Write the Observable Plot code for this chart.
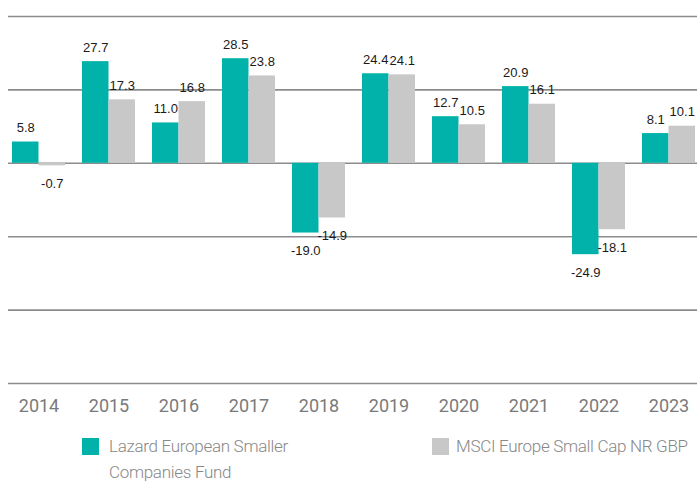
<!DOCTYPE html>
<html><head><meta charset="utf-8">
<script src="https://cdn.jsdelivr.net/npm/d3@7"></script>
<script src="https://cdn.jsdelivr.net/npm/@observablehq/plot@0.6"></script>
<style>
body{margin:0;background:#fff;}
#wrap{position:relative;width:697px;height:482px;overflow:hidden;}
.leg{position:absolute;font-family:Roboto,sans-serif;font-weight:300;font-size:17px;letter-spacing:-0.3px;color:#888;line-height:26px;white-space:nowrap;}
.sw{position:absolute;width:17px;height:17px;}
</style></head><body>
<div id="wrap"><div id="chart"></div></div>
<script>
const years = ["2014","2015","2016","2017","2018","2019","2020","2021","2022","2023"];
const fund = [5.8,27.7,11.0,28.5,-19.0,24.4,12.7,20.9,-24.9,8.1];
const bench = [-0.7,17.3,16.8,23.8,-14.9,24.1,10.5,16.1,-18.1,10.1];
const seriesNames = ["Lazard European Smaller\nCompanies Fund","MSCI Europe Small Cap NR GBP"];
const colors = ["#00B2A9","#C8C8C8"];
const yTicks = [-60,-40,-20,0,20,40];

const fundData = years.map((y,i)=>({year:y, v:fund[i]}));
const benchData = years.map((y,i)=>({year:y, v:bench[i]}));
const half = 26.5;
const lbl = (data, dx) => [
  Plot.text(data,{filter:d=>d.v>=0, x:"year", y:"v", text:d=>d.v.toFixed(1), dx, dy:-14, fill:"#1a1a1a", fontSize:13}),
  Plot.text(data,{filter:d=>d.v<0, x:"year", y:"v", text:d=>d.v.toFixed(1), dx, dy:18, fill:"#1a1a1a", fontSize:13})
];
const chart = Plot.plot({
  width:697, height:420, marginTop:16, marginBottom:37, marginLeft:8, marginRight:0,
  style:{fontFamily:"'Liberation Sans', Arial, sans-serif", fontSize:"13px", background:"#fff"},
  x:{domain:years, range:[10,697], paddingInner:0.2476, paddingOuter:0, axis:null},
  y:{domain:[-60,40], axis:null},
  marks:[
    Plot.ruleY(yTicks,{stroke:"#8c8c8c", strokeWidth:1.6}),
    Plot.barY(fundData,{x:"year", y:"v", fill:colors[0], insetRight:half}),
    Plot.barY(benchData,{x:"year", y:"v", fill:colors[1], insetLeft:half}),
    ...lbl(fundData,-half/2),
    ...lbl(benchData,half/2),
    Plot.axisX({tickSize:0, tickPadding:16, fontSize:18, fill:"#7a7a7a", fontFamily:"Roboto, sans-serif", label:null})
  ]
});
document.getElementById("chart").appendChild(chart);
const wrap = document.getElementById("wrap");
const legPos = [{sx:82, tx:109},{sx:432, tx:456}];
seriesNames.forEach((name,i)=>{
  const sw = document.createElement("div");
  sw.className="sw"; sw.style.left=legPos[i].sx+"px"; sw.style.top="438px"; sw.style.background=colors[i];
  wrap.appendChild(sw);
  const t = document.createElement("div");
  t.className="leg"; t.style.left=legPos[i].tx+"px"; t.style.top="433px";
  t.innerHTML = name.split("\n").join("<br>");
  wrap.appendChild(t);
});
</script>
</body></html>
